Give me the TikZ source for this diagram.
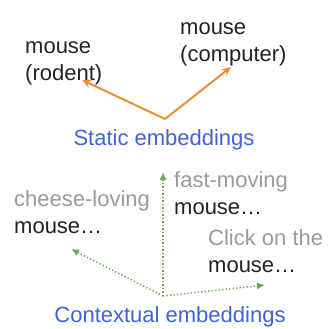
\documentclass[tikz,border=0pt]{standalone}
\usepackage{fontspec}
\setmainfont{Liberation Sans}
\usetikzlibrary{arrows.meta}
\definecolor{staticorange}{HTML}{E69138}
\definecolor{contextgreen}{HTML}{6AA84F}
\definecolor{captionblue}{HTML}{3F63D6}
\definecolor{contextgray}{HTML}{9A9A9A}
\definecolor{wordblack}{HTML}{222222}
\begin{document}
\begin{tikzpicture}[x=1pt,y=-1pt,
  word/.style={inner sep=0pt, anchor=base west, align=left,
    font=\fontsize{22}{27}\selectfont, text=wordblack},
  caption/.style={inner sep=0pt, anchor=base,
    font=\fontsize{22}{27}\selectfont, text=captionblue},
  staticarrow/.style={draw=staticorange, line width=2pt,
    -{Stealth[length=9pt,width=8pt]}},
  contextarrow/.style={draw=contextgreen, line width=1.5pt,
    dash pattern=on 1.3pt off 2.2pt,
    -{Latex[length=8pt,width=7pt]}}]
\useasboundingbox (0,0) rectangle (329,329);

% static embeddings: one vector per word sense
% (node positions give the baseline of the last line)
\node[word] (rodent) at (25,80) {mouse\\(rodent)};
\node[word] (computer) at (180,62) {mouse\\(computer)};
\node[caption] (static) at (164,145) {Static embeddings};
\coordinate (so) at (165,119);
\coordinate (rt) at (82,80);
\coordinate (ct) at (231,67);
\draw[staticarrow] (so) -- (rt);
\draw[staticarrow] (so) -- (ct);

% contextual embeddings: one vector per occurrence
\node[word] (cheese) at (14,233) {\textcolor{contextgray}{cheese-loving}\\mouse…};
\node[word] (fast) at (174,214) {\textcolor{contextgray}{fast-moving}\\mouse…};
\node[word] (click) at (208,272) {\textcolor{contextgray}{Click on the}\\mouse…};
\node[caption] (contextual) at (170,322) {Contextual embeddings};
\coordinate (co) at (163,296);
\coordinate (up) at (163,172);
\coordinate (lf) at (71,249);
\coordinate (rg) at (265,285);
\draw[contextarrow] (co) -- (up);
\draw[contextarrow] (co) -- (lf);
\draw[contextarrow] (co) -- (rg);
\end{tikzpicture}
\end{document}
